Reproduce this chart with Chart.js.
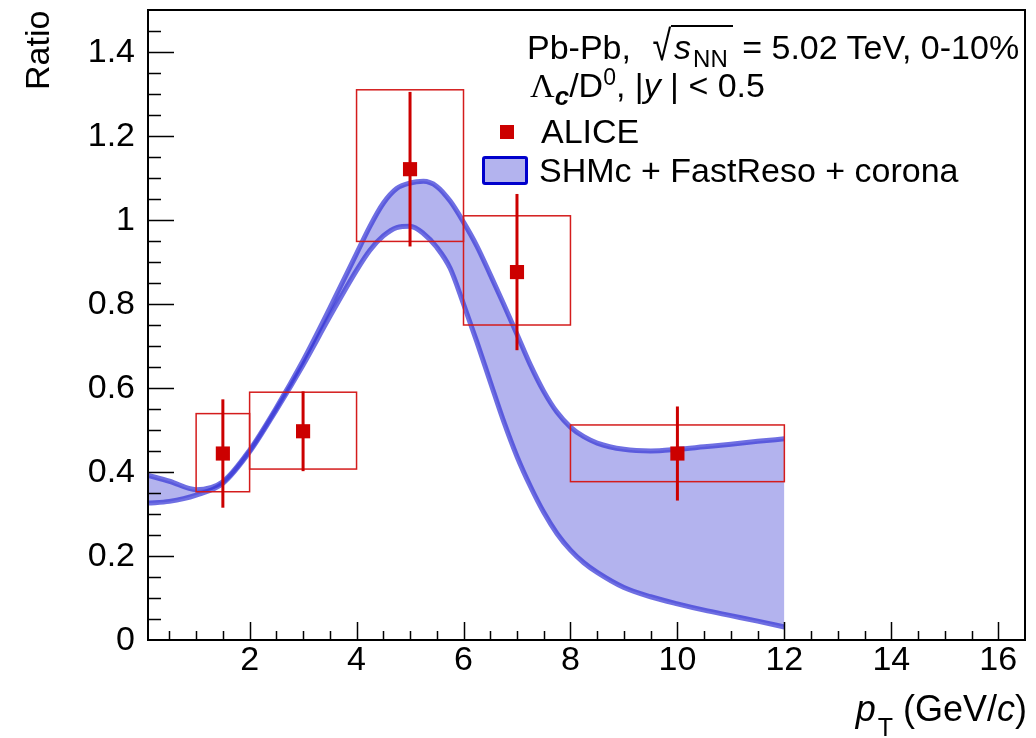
<!DOCTYPE html>
<html>
<head>
<meta charset="utf-8">
<title>Lambda_c / D0 ratio, Pb-Pb 5.02 TeV</title>
<script src="https://cdn.jsdelivr.net/npm/chart.js@4.4.1/dist/chart.umd.min.js"></script>
<style>
    html, body { margin: 0; padding: 0; background: #fff; }
    #wrap {
        position: relative; width: 1036px; height: 738px; overflow: hidden;
        font-family: "Liberation Sans", Arial, Helvetica, sans-serif; color: #000;
    }
    #chart { position: absolute; left: 0; top: 0; }
    .lbl { position: absolute; font-size: 34px; line-height: 34px; white-space: nowrap; }
    .lbl sub, .lbl sup { vertical-align: baseline; position: relative; line-height: 0; }

    #yTitle { left: 20px; top: 90px; transform-origin: 0 0; transform: rotate(-90deg); }
    #xTitle { right: 9px; top: 691px; font-size: 36px; line-height: 36px; }
    #xTitle sub { font-size: 25px; top: 15px; margin-left: 2px; }

    #line1 { left: 527px; top: 30px; }
    #line1 .rad { display: inline-block; transform: scale(1, 1.25); transform-origin: 50% 70%; margin-left: 12px; }
    #line1 .ovl { border-top: 2px solid #000; padding-top: 1px; padding-left: 3px; padding-right: 5px; }
    #line1 sub { font-size: 24px; top: 8px; margin-left: 2px; }

    #line2 { left: 530px; top: 68px; }
    #line2 .greek { font-family: "Liberation Serif", "Times New Roman", serif; }
    #line2 sub { font-size: 26px; top: 8px; }
    #line2 sup { font-size: 23px; top: -12px; }

    #legMarker { position: absolute; left: 500px; top: 125px; width: 14px; height: 14px; background: #cc0000; }
    #legAlice { left: 541px; top: 114px; }
    #legBox {
        position: absolute; left: 482px; top: 156px; width: 46px; height: 29px; box-sizing: border-box;
        background: #b3b3ee; border: 3px solid #0000cc; border-radius: 3px;
    }
    #legModel { left: 539px; top: 153px; }
</style>
</head>
<body>
<div id="wrap">
    <canvas id="chart" width="1036" height="738"></canvas>
    <div class="lbl" id="yTitle">Ratio</div>
    <div class="lbl" id="xTitle"><i>p</i><sub>T</sub> (GeV/<i>c</i>)</div>
    <div class="lbl" id="line1">Pb-Pb, <span class="rad">√</span><span class="ovl"><i>s</i><sub>NN</sub></span> = 5.02 TeV, 0-10%</div>
    <div class="lbl" id="line2"><span class="greek">Λ</span><sub><b><i>c</i></b></sub>/D<sup>0</sup>, |<i>y</i> | &lt; 0.5</div>
    <div id="legMarker"></div>
    <div class="lbl" id="legAlice">ALICE</div>
    <div id="legBox"></div>
    <div class="lbl" id="legModel">SHMc + FastReso + corona</div>
</div>

<script>
(function () {
    'use strict';

    // =================== Data ===================

    // ALICE Lambda_c/D0, 0-10% central Pb-Pb
    const alicePt = [1.5, 3, 5, 7, 10];
    const aliceRatio = [0.444, 0.497, 1.121, 0.876, 0.444];
    const aliceStat = [0.129, 0.095, 0.184, 0.186, 0.112];
    const aliceSystUp = [0.095, 0.093, 0.189, 0.134, 0.068];
    const aliceSystDown = [0.091, 0.090, 0.172, 0.126, 0.067];
    const aliceBinLow = [1, 2, 4, 6, 8];
    const aliceBinHigh = [2, 4, 6, 8, 12];

    // SHMc + FastReso + corona band (upper / lower edge)
    const modelPt = [0.1, 0.5, 1.0, 1.5, 2.0, 2.5, 3.0, 3.5, 4.0, 4.25, 4.5, 4.75, 5.0, 5.25, 5.5, 5.75,
        6.0, 6.25, 6.5, 6.75, 7.0, 7.25, 7.5, 7.75, 8.0, 8.25, 8.5, 9.0, 9.5, 10.0, 10.5, 11.0, 11.5, 12.0];
    const modelUpper = [0.392, 0.378, 0.358, 0.377, 0.452, 0.553, 0.665, 0.790, 0.920, 0.985, 1.040, 1.075,
        1.088, 1.092, 1.080, 1.045, 0.995, 0.938, 0.870, 0.800, 0.728, 0.655, 0.592, 0.542, 0.507, 0.484,
        0.469, 0.454, 0.450, 0.454, 0.460, 0.466, 0.473, 0.479];
    const modelLower = [0.326, 0.330, 0.345, 0.373, 0.448, 0.548, 0.655, 0.770, 0.880, 0.928, 0.962, 0.982,
        0.985, 0.968, 0.935, 0.885, 0.800, 0.710, 0.615, 0.521, 0.437, 0.366, 0.304, 0.253, 0.214, 0.184,
        0.161, 0.125, 0.103, 0.086, 0.071, 0.058, 0.045, 0.031];

    // Axis labels
    const xTickLabels = [2, 4, 6, 8, 10, 12, 14, 16];
    const yTickLabels = [0, 0.2, 0.4, 0.6, 0.8, 1, 1.2, 1.4];

    const FONT = "'Liberation Sans', Arial, Helvetica, sans-serif";
    const RED = '#cc0000';

    function toPoints(xs, ys) {
        return xs.map((x, i) => ({ x: x, y: ys[i] }));
    }

    // =================== Plugins ===================

    // Syst boxes + stat bars, drawn just before the ALICE markers
    const aliceErrorsPlugin = {
        id: 'aliceErrors',
        beforeDatasetDraw(chart, args) {
            if (args.index !== 0) return;
            const { ctx, scales: { x, y } } = chart;
            ctx.save();

            ctx.strokeStyle = '#d41c1c';
            ctx.lineWidth = 1.5;
            alicePt.forEach((pt, i) => {
                const x0 = x.getPixelForValue(aliceBinLow[i]);
                const x1 = x.getPixelForValue(aliceBinHigh[i]);
                const y0 = y.getPixelForValue(aliceRatio[i] + aliceSystUp[i]);
                const y1 = y.getPixelForValue(aliceRatio[i] - aliceSystDown[i]);
                ctx.strokeRect(x0, y0, x1 - x0, y1 - y0);
            });

            ctx.strokeStyle = RED;
            ctx.lineWidth = 3;
            alicePt.forEach((pt, i) => {
                const px = x.getPixelForValue(pt);
                ctx.beginPath();
                ctx.moveTo(px, y.getPixelForValue(aliceRatio[i] + aliceStat[i]));
                ctx.lineTo(px, y.getPixelForValue(aliceRatio[i] - aliceStat[i]));
                ctx.stroke();
            });

            ctx.restore();
        }
    };

    // ROOT-like frame with inward ticks
    const frameTicksPlugin = {
        id: 'frameTicks',
        afterDraw(chart) {
            const { ctx, chartArea: a, scales: { x, y } } = chart;
            ctx.save();
            ctx.strokeStyle = '#000';
            ctx.lineWidth = 1.5;
            ctx.beginPath();

            // x: major every 2, minor every 0.5
            for (let v = 0.5; v < x.max; v += 0.5) {
                const px = Math.round(x.getPixelForValue(v)) + 0.5;
                const len = xTickLabels.includes(v) ? 18 : 9;
                ctx.moveTo(px, a.bottom);
                ctx.lineTo(px, a.bottom - len);
            }

            // y: major every 0.2, minor every 0.05
            for (let k = 1; k * 0.05 < y.max; k++) {
                const v = k * 0.05;
                const py = Math.round(y.getPixelForValue(v)) + 0.5;
                const len = (k % 4 === 0) ? 26 : 13;
                ctx.moveTo(a.left, py);
                ctx.lineTo(a.left + len, py);
            }
            ctx.stroke();

            ctx.lineWidth = 2;
            ctx.strokeRect(a.left, a.top, a.right - a.left, a.bottom - a.top);
            ctx.restore();
        }
    };

    // =================== Chart ===================

    const canvas = document.getElementById('chart');
    const ctx = canvas.getContext('2d');

    new Chart(ctx, {
        type: 'scatter',
        data: {
            datasets: [
                {
                    label: 'ALICE',
                    data: toPoints(alicePt, aliceRatio),
                    pointStyle: 'rect',
                    pointRadius: 10,
                    backgroundColor: RED,
                    borderWidth: 0
                },
                {
                    label: 'SHMc + FastReso + corona (upper)',
                    data: toPoints(modelPt, modelUpper),
                    showLine: true,
                    pointRadius: 0,
                    borderColor: 'rgba(55, 55, 215, 0.72)',
                    borderWidth: 5,
                    cubicInterpolationMode: 'monotone',
                    fill: '+1',
                    backgroundColor: 'rgb(179, 179, 238)',
                    clip: 0
                },
                {
                    label: 'SHMc + FastReso + corona (lower)',
                    data: toPoints(modelPt, modelLower),
                    showLine: true,
                    pointRadius: 0,
                    borderColor: 'rgba(55, 55, 215, 0.72)',
                    borderWidth: 5,
                    cubicInterpolationMode: 'monotone',
                    fill: false,
                    clip: 0
                }
            ]
        },
        options: {
            responsive: false,
            animation: false,
            events: [],
            layout: { padding: { top: 7, right: 11, left: 0, bottom: 0 } },
            plugins: {
                legend: { display: false },
                tooltip: { enabled: false },
                filler: { drawTime: 'beforeDatasetsDraw' }
            },
            scales: {
                x: {
                    type: 'linear',
                    min: 0.1,
                    max: 16.5,
                    bounds: 'data',
                    grid: { display: false, drawTicks: false },
                    border: { display: false },
                    afterBuildTicks: function (axis) {
                        axis.ticks = xTickLabels.map(v => ({ value: v }));
                    },
                    afterFit: function (axis) {
                        axis.height = 98;
                        axis.paddingLeft = 0;
                        axis.paddingRight = 0;
                    },
                    ticks: {
                        font: { family: FONT, size: 34 },
                        color: '#000',
                        padding: 0,
                        maxRotation: 0,
                        autoSkip: false,
                        callback: v => String(v)
                    }
                },
                y: {
                    type: 'linear',
                    min: 0,
                    max: 1.5,
                    bounds: 'data',
                    grid: { display: false, drawTicks: false },
                    border: { display: false },
                    afterBuildTicks: function (axis) {
                        axis.ticks = yTickLabels.map(v => ({ value: v }));
                    },
                    afterFit: function (axis) {
                        axis.width = 148;
                        axis.paddingTop = 0;
                        axis.paddingBottom = 0;
                    },
                    ticks: {
                        font: { family: FONT, size: 34 },
                        color: '#000',
                        padding: 13,
                        labelOffset: 1,
                        autoSkip: false,
                        callback: v => String(v)
                    }
                }
            }
        },
        plugins: [aliceErrorsPlugin, frameTicksPlugin]
    });
})();
</script>
</body>
</html>
